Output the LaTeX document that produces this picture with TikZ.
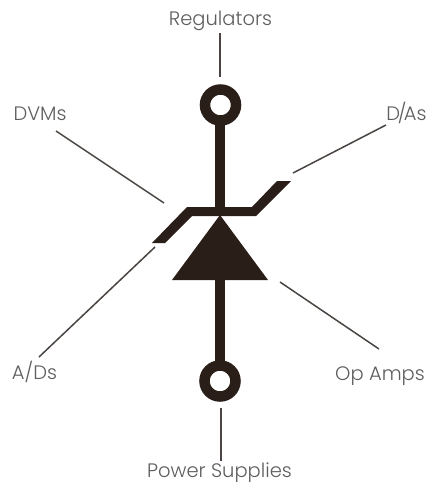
\documentclass[tikz,border=0pt]{standalone}
\usepackage{fontspec}
\setmainfont{Poppins}[UprightFont=* Light]
\definecolor{ink}{HTML}{2A1E19}
\definecolor{leader}{HTML}{4A4542}
\definecolor{lab}{HTML}{5E5E5E}
\tikzset{
  x=1pt,y=-1pt,
  solidpart/.style={fill=ink,draw=none},
  stem/.style={draw=ink,line width=10pt},
  leaderline/.style={draw=leader,line width=1.5pt},
  terminal/.style={circle,draw=ink,line width=10.5pt,fill=white,minimum size=31pt,inner sep=0pt,outer sep=0pt},
  lbl/.style={text=lab,font=\fontsize{19.5}{24}\selectfont,inner sep=0pt,anchor=base}
}
\begin{document}
\begin{tikzpicture}
\useasboundingbox (0,0) rectangle (429,483);
\fill[white] (0,0) rectangle (429,483);
% connection points
\coordinate (apex) at (220,215);
\coordinate (baseL) at (172,280);
\coordinate (baseR) at (268,280);
\coordinate (baseM) at (220,280);
% terminals
\node[terminal] (top) at (220.5,105) {};
\node[terminal] (bot) at (220,381) {};
% stems
\draw[stem] (top.south -| apex) -- (apex);
\draw[stem] (baseM) -- (bot.north);
% Zener bar
\fill[solidpart] (152,243) -- (187,207) -- (252,207) -- (277,181) -- (291,181)
   -- (256,216) -- (192,216) -- (165,243) -- cycle;
% triangle
\fill[solidpart] (apex) -- (baseR) -- (baseL) -- cycle;
% labels
\node[lbl] (reg) at (220.5,25) {Regulators};
\node[lbl] (dvm) at (40,120) {DVMs};
\node[lbl] (das) at (406.5,120) {D\kern-2.5pt/\kern-2.5pt As};
\node[lbl] (ads) at (34.5,379) {A/Ds};
\node[lbl] (ops) at (380,380) {Op Amps};
\node[lbl] (pwr) at (219.5,477) {Power Supplies};
% leaders
\coordinate (regA) at (220,33);  \coordinate (regB) at (220,77);
\coordinate (pwrA) at (221,408); \coordinate (pwrB) at (221,461);
\coordinate (dvmA) at (56,131);  \coordinate (dvmB) at (164,203);
\coordinate (dasA) at (386,125); \coordinate (dasB) at (293,173);
\coordinate (adsA) at (39,357);  \coordinate (adsB) at (155,247);
\coordinate (opsA) at (379,349); \coordinate (opsB) at (280,282);
\draw[leaderline] (regA) -- (regB);
\draw[leaderline] (pwrA) -- (pwrB);
\draw[leaderline] (dvmA) -- (dvmB);
\draw[leaderline] (dasA) -- (dasB);
\draw[leaderline] (adsA) -- (adsB);
\draw[leaderline] (opsA) -- (opsB);
\end{tikzpicture}
\end{document}
